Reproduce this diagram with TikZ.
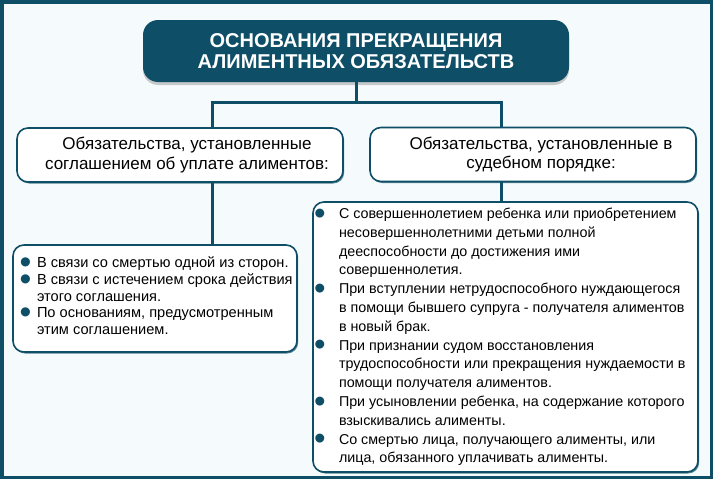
\documentclass[tikz,border=0pt]{standalone}
\usepackage{fontspec}
\setmainfont{Liberation Sans}
\usetikzlibrary{shadows}
\definecolor{tealdark}{HTML}{0E4F67}
\definecolor{bgtint}{HTML}{F5FAFC}
\newcommand{\bulmark}{\makebox[0pt][c]{\textcolor{tealdark}{\raisebox{-5.8pt}{\scalebox{2.3}{\textbullet}}}}}
\newenvironment{blist}[2]{\begin{list}{\bulmark}{\leftmargin=#1\labelwidth=0pt\labelsep=#2\itemsep=0pt\parsep=0pt\topsep=0pt\partopsep=0pt\rightmargin=0pt}\raggedright}{\end{list}}
\tikzset{
  frame/.style={draw=tealdark, line width=3.5pt, fill=bgtint},
  titlebox/.style={fill=tealdark, rounded corners=15pt, text=white, align=center,
    font=\fontsize{20}{21.5}\selectfont\bfseries, minimum width=426pt, minimum height=62pt, inner sep=0pt,
    drop shadow={shadow xshift=0pt, shadow yshift=-3pt, fill=black!40, opacity=0.5}},
  headbox/.style={draw=tealdark, line width=1.6pt, fill=white, rounded corners=11pt, align=center,
    font=\fontsize{17}{19.5}\selectfont, minimum width=326pt, minimum height=54pt, inner sep=0pt,
    drop shadow={shadow xshift=1.2pt, shadow yshift=-1.5pt, fill=tealdark, opacity=0.7}},
  listbox/.style={draw=tealdark, line width=1.6pt, fill=white, rounded corners=11pt, inner sep=0pt,
    drop shadow={shadow xshift=1.2pt, shadow yshift=-1.5pt, fill=tealdark, opacity=0.7}},
  conn/.style={draw=tealdark, line width=3pt}
}
\begin{document}
\begin{tikzpicture}[x=1pt,y=-1pt]
\useasboundingbox (0,0) rectangle (713,479);
\path[frame] (1.75,1.75) rectangle (711.25,477.25);

\node[titlebox] (title) at (356,51) {ОСНОВАНИЯ ПРЕКРАЩЕНИЯ\\АЛИМЕНТНЫХ ОБЯЗАТЕЛЬСТВ};

\node[headbox] (lh) at (180,155) {\hspace*{14pt}Обязательства, установленные\\\hspace*{14pt}соглашением об уплате алиментов:};
\node[headbox] (rh) at (533,154.5) {\hspace*{16pt}Обязательства, установленные в\\\hspace*{16pt}судебном порядке:};

\node[listbox, minimum width=284pt, minimum height=107pt] (ll) at (155,298.5) {%
\makebox[276pt][l]{\parbox{320pt}{\fontsize{14.6}{16.5}\selectfont
\begin{blist}{20pt}{11.5pt}
\item В связи со смертью одной из сторон.
\item В связи с истечением срока действия\newline этого соглашения.
\item По основаниям, предусмотренным\newline этим соглашением.
\end{blist}\vspace*{6pt}}}};

\node[listbox, minimum width=385pt, minimum height=270pt] (rl) at (505.5,337) {%
\makebox[376pt][l]{\parbox{420pt}{\fontsize{14.3}{18.8}\selectfont
\begin{blist}{21.5pt}{19pt}
\item С совершеннолетием ребенка или приобретением\newline несовершеннолетними детьми полной\newline дееспособности до достижения ими\newline совершеннолетия.
\item При вступлении нетрудоспособного нуждающегося\newline в помощи бывшего супруга - получателя алиментов\newline в новый брак.
\item При признании судом восстановления\newline трудоспособности или прекращения нуждаемости в\newline помощи получателя алиментов.
\item При усыновлении ребенка, на содержание которого\newline взыскивались алименты.
\item Со смертью лица, получающего алименты, или\newline лица, обязанного уплачивать алименты.
\end{blist}}}};

\coordinate (jc) at (356,102);
\coordinate (jl) at (212,102);
\coordinate (jr) at (501,102);
\draw[conn] (title.south) -- (jc);
\draw[conn] ([xshift=-1.5pt]jl) -- ([xshift=1.5pt]jr);
\draw[conn] (jl) -- (jl |- lh.north);
\draw[conn] (jr) -- (jr |- rh.north);
\draw[conn] (jl |- lh.south) -- (jl |- ll.north);
\draw[conn] (jr |- rh.south) -- (jr |- rl.north);
\end{tikzpicture}
\end{document}
